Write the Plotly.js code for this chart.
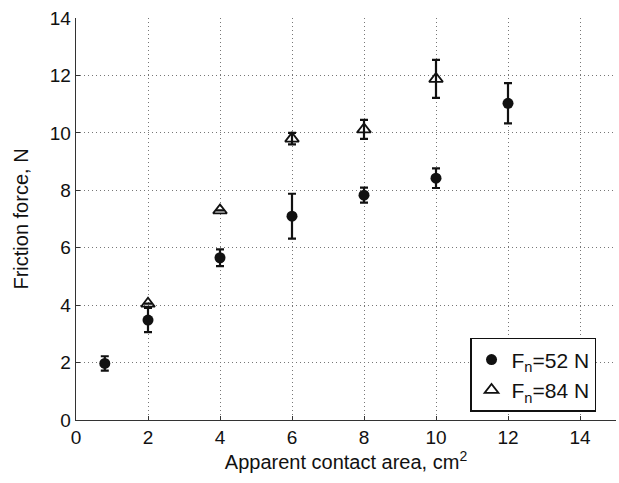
<!DOCTYPE html>
<html>
<head>
<script src="https://cdn.plot.ly/plotly-3.0.1.min.js"></script>
<style>body{margin:0;padding:0;background:#fff;}</style>
</head>
<body>
<div id="chart" style="width:619px;height:483px;"></div>
<script>
const x52 = [0.8, 2, 4, 6, 8, 10, 12];
const y52 = [1.97, 3.48, 5.65, 7.1, 7.83, 8.42, 11.03];
const err52 = [0.25, 0.42, 0.29, 0.78, 0.26, 0.34, 0.7];
const x84 = [2, 4, 6, 8, 10];
const y84 = [4.05, 7.3, 9.8, 10.12, 11.88];
const err84 = [0.0, 0.0, 0.2, 0.33, 0.66];
const xTicks = [0, 2, 4, 6, 8, 10, 12, 14];
const yTicks = [0, 2, 4, 6, 8, 10, 12, 14];

const FAM = 'Liberation Sans, Arial, sans-serif';
const traces = [
  {
    x: x52, y: y52, type: 'scatter', mode: 'markers', name: 'F<sub>n</sub>=52 N',
    marker: {symbol: 'circle', size: 11, color: '#111'},
    error_y: {type: 'data', array: err52, visible: true, color: '#111', thickness: 2.2, width: 4}
  },
  {
    x: x84, y: y84, type: 'scatter', mode: 'markers', name: 'F<sub>n</sub>=84 N',
    marker: {symbol: 'triangle-up-open', size: 12, color: '#111', line: {width: 1.8, color: '#111'}},
    error_y: {type: 'data', array: err84, visible: true, color: '#111', thickness: 2.2, width: 4}
  }
];

const axisFont = {family: FAM, size: 19, color: '#111'};
const layout = {
  width: 619, height: 483,
  margin: {l: 76, r: 3, t: 18, b: 63},
  paper_bgcolor: '#fff', plot_bgcolor: '#fff',
  showlegend: true,
  font: {family: FAM, color: '#111'},
  xaxis: {
    range: [0, 15], tickvals: xTicks, ticktext: xTicks.map(String),
    showline: true, linecolor: '#333', linewidth: 1.3, mirror: false,
    ticks: 'inside', ticklen: 4, tickcolor: '#333',
    showgrid: true, gridcolor: '#777', griddash: '1px,3px', gridwidth: 1,
    zeroline: false, tickfont: axisFont,
    title: {text: 'Apparent contact area, cm<sup>2</sup>', font: {family: FAM, size: 20, color: '#111'}, standoff: 3}
  },
  yaxis: {
    range: [0, 14], tickvals: yTicks, ticktext: yTicks.map(String),
    showline: true, linecolor: '#333', linewidth: 1.3, mirror: false,
    ticks: 'inside', ticklen: 4, tickcolor: '#333',
    showgrid: true, gridcolor: '#777', griddash: '1px,3px', gridwidth: 1,
    zeroline: false, tickfont: axisFont,
    title: {text: 'Friction force, N', font: {family: FAM, size: 20, color: '#111'}, standoff: 15}
  },
  legend: {
    x: 0.963, y: 0.02, xanchor: 'right', yanchor: 'bottom',
    bgcolor: '#fff', bordercolor: '#111', borderwidth: 1.5,
    font: {family: FAM, size: 21, color: '#111'},
    itemwidth: 30, tracegroupgap: 8
  }
};

Plotly.newPlot('chart', traces, layout, {displayModeBar: false, staticPlot: true});
</script>
</body>
</html>
